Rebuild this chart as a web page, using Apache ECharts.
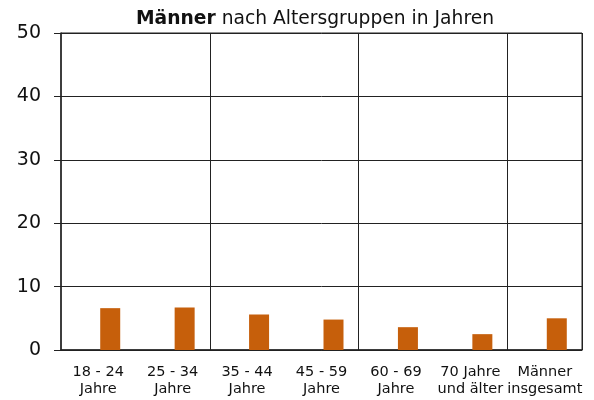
<!DOCTYPE html>
<html>
<head>
<meta charset="utf-8">
<style>
  html, body { margin: 0; padding: 0; background: #fff; }
  #main { width: 594px; height: 400px; }
</style>
<script src="https://cdn.jsdelivr.net/npm/echarts@6/dist/echarts.min.js"></script>
</head>
<body>
<div id="main"></div>
<script>
// Altersgruppen (x-Achse)
var categories = [
  "18 - 24\nJahre",
  "25 - 34\nJahre",
  "35 - 44\nJahre",
  "45 - 59\nJahre",
  "60 - 69\nJahre",
  "70 Jahre\nund älter",
  "Männer\ninsgesamt"
];
// Werte Männer in %
var maenner = [6.6, 6.7, 5.6, 4.8, 3.6, 2.5, 5.0];
// leere Platzhalter-Reihe (Bars sitzen rechts in der Kategorie)
var platzhalter = [null, null, null, null, null, null, null];
var yTicks = { min: 0, max: 50, interval: 10 };

var font = "DejaVu Sans";

var myChart = echarts.init(document.getElementById("main"));
myChart.setOption({
  animation: false,
  textStyle: { fontFamily: font },
  title: {
    text: "{b|Männer} nach Altersgruppen in Jahren",
    left: 310,
    textAlign: "center",
    top: 5,
    textStyle: {
      fontSize: 18.7,
      fontWeight: "normal",
      fontFamily: font,
      color: "#111",
      rich: {
        b: { fontSize: 18.7, fontWeight: "bold", color: "#111", fontFamily: font }
      }
    }
  },
  grid: {
    left: 61,
    right: 12,
    top: 33,
    bottom: 50,
    show: true,
    borderColor: "#222",
    borderWidth: 1
  },
  xAxis: {
    type: "category",
    data: categories,
    axisLine: { lineStyle: { color: "#222", width: 1.5 } },
    axisTick: { show: false },
    axisLabel: {
      color: "#111",
      fontSize: 14.5,
      lineHeight: 17,
      margin: 14,
      interval: 0
    },
    splitLine: {
      show: true,
      interval: function (index) {
        return index === 2 || index === 4 || index === 6;
      },
      lineStyle: { color: "#222", width: 1 }
    }
  },
  yAxis: {
    type: "value",
    min: yTicks.min,
    max: yTicks.max,
    interval: yTicks.interval,
    axisLine: { show: true, lineStyle: { color: "#222", width: 1.5 } },
    axisTick: { show: true, length: 7, lineStyle: { color: "#222" } },
    axisLabel: { color: "#111", fontSize: 19, margin: 20 },
    splitLine: { show: true, lineStyle: { color: "#222", width: 1 } }
  },
  series: [
    {
      name: "leer",
      type: "bar",
      data: platzhalter,
      barWidth: 20,
      barGap: "20%"
    },
    {
      name: "Männer",
      type: "bar",
      data: maenner,
      barWidth: 20,
      barGap: "20%",
      itemStyle: { color: "#c65f0b" }
    }
  ]
});
</script>
</body>
</html>
